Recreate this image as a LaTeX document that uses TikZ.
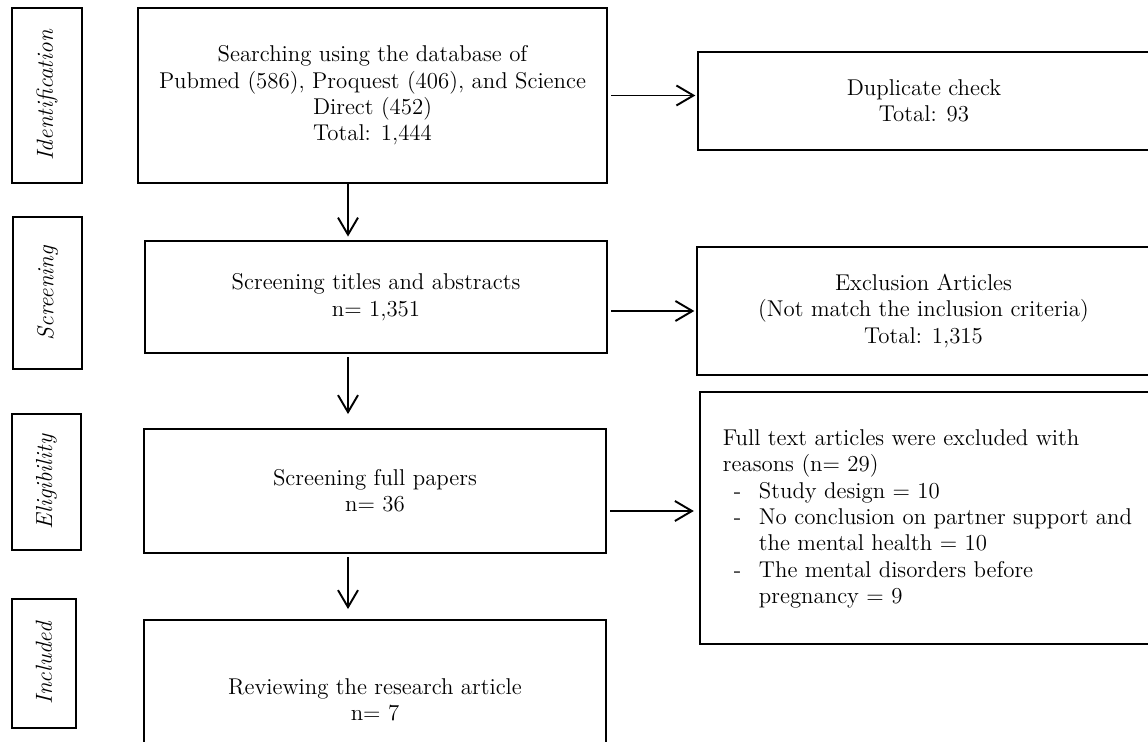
\documentclass[tikz,border=0pt]{standalone}
\usetikzlibrary{arrows.meta, positioning, calc}

\newcommand{\itm}{\hspace*{0.22cm}\makebox[0.5cm][l]{-}}

\begin{document}
\begin{tikzpicture}[
    x=0.02cm, y=-0.02cm,
    >={Straight Barb[length=3.4mm, width=4mm]},
    line width=1.1pt,
    stage/.style={draw, rotate=90, inner sep=0pt, font=\fontsize{13.2}{15}\selectfont\itshape},
    box/.style={draw, inner sep=0pt, align=center, font=\fontsize{13}{15}\selectfont},
    txt/.style={inner sep=0pt, align=left, font=\fontsize{13}{15}\selectfont},
]
    \clip (0,0) rectangle (1148,742);

    % stage labels
    \node[stage, minimum width=3.5cm, minimum height=1.4cm] (ident) at (47,95.5) {Identification};
    \node[stage, minimum width=3.04cm, minimum height=1.38cm] (screen) at (47.5,293) {Screening};
    \node[stage, minimum width=2.72cm, minimum height=1.38cm] (elig) at (46.5,482) {Eligibility};
    \node[stage, minimum width=2.58cm, minimum height=1.28cm] (incl) at (44,663.5) {Included};

    % main column
    \node[box, minimum width=9.38cm, minimum height=3.5cm] (search) at (372.5,95.5)
        {Searching using the database of\\Pubmed (586), Proquest (406), and Science\\Direct (452)\\Total: 1,444};
    \node[box, minimum width=9.24cm, minimum height=2.24cm] (titles) at (376,297)
        {Screening titles and abstracts\\n= 1,351};
    \node[box, minimum width=9.24cm, minimum height=2.48cm] (papers) at (375,491)
        {Screening full papers\\n= 36};
    \node[box, minimum width=9.24cm, minimum height=3.2cm] (review) at (375,700)
        {Reviewing the research article\\n= 7};

    % side column
    \node[box, minimum width=9.04cm, minimum height=1.96cm] (dup) at (924,101)
        {Duplicate check\\Total: 93};
    \node[box, minimum width=9.06cm, minimum height=2.56cm] (excl) at (923.5,311)
        {Exclusion Articles\\(Not match the inclusion criteria)\\Total: 1,315};
    \node[box, minimum width=9cm, minimum height=5.04cm] (full) at (925,518) {};
    \node[txt, anchor=west] (fulltxt) at (722,519)
        {Full text articles were excluded with\\
         reasons (n= 29)\\
         \itm Study design = 10\\
         \itm No conclusion on partner support and\\
         \hspace*{0.72cm}the mental health = 10\\
         \itm The mental disorders before\\
         \hspace*{0.72cm}pregnancy = 9};

    \coordinate (axis) at (348,0);
    \draw[->, shorten >=2pt] (search.south -| axis) -- (titles.north -| axis);
    \draw[->, shorten <=2pt, shorten >=0.28cm] (titles.south -| axis) -- (papers.north -| axis);
    \draw[->, shorten <=2pt, shorten >=0.2cm] (papers.south -| axis) -- (review.north -| axis);

    \coordinate (out3) at ($(papers.east)+(0,20)$);
    \draw[->, shorten <=2pt, shorten >=1pt] (search.east) -- (search.east -| dup.west);
    \draw[->, shorten <=2pt, shorten >=1pt] (titles.east |- excl.west) -- (excl.west);
    \draw[->, shorten <=2pt, shorten >=3pt] (out3) -- (out3 -| full.west);
\end{tikzpicture}
\end{document}
